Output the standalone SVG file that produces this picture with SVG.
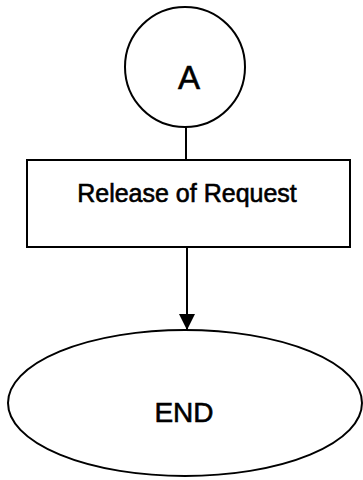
<svg xmlns="http://www.w3.org/2000/svg" width="363" height="480" viewBox="0 0 363 480">
  <style>
    .shape { fill: #ffffff; stroke: #000000; stroke-width: 2; }
    .edge { fill: none; stroke: #000000; stroke-width: 2; }
    .label { font-family: "Liberation Sans", Arial, sans-serif; fill: #000000; stroke: #000000; stroke-width: 0.6; text-anchor: middle; }
  </style>
  <defs>
    <marker id="arrow" markerUnits="userSpaceOnUse" markerWidth="18" markerHeight="18" refX="16" refY="8" orient="auto">
      <path d="M0,0 L16,8 L0,16 Z" fill="#000000"/>
    </marker>
  </defs>
  <rect width="363" height="480" fill="#ffffff"/>

  <g id="connectors">
    <line class="edge" x1="186" y1="127" x2="186" y2="160"/>
    <line class="edge" x1="187" y1="247" x2="187" y2="330" marker-end="url(#arrow)"/>
  </g>

  <g id="node-a">
    <circle class="shape" cx="185" cy="67" r="60"/>
    <text class="label" x="189" y="89" font-size="33">A</text>
  </g>

  <g id="node-release">
    <rect class="shape" x="27" y="160" width="323" height="87"/>
    <text class="label" x="187" y="202" font-size="25">Release of Request</text>
  </g>

  <g id="node-end">
    <ellipse class="shape" cx="185" cy="403" rx="177" ry="73"/>
    <text class="label" x="184" y="422" font-size="28">END</text>
  </g>
</svg>
